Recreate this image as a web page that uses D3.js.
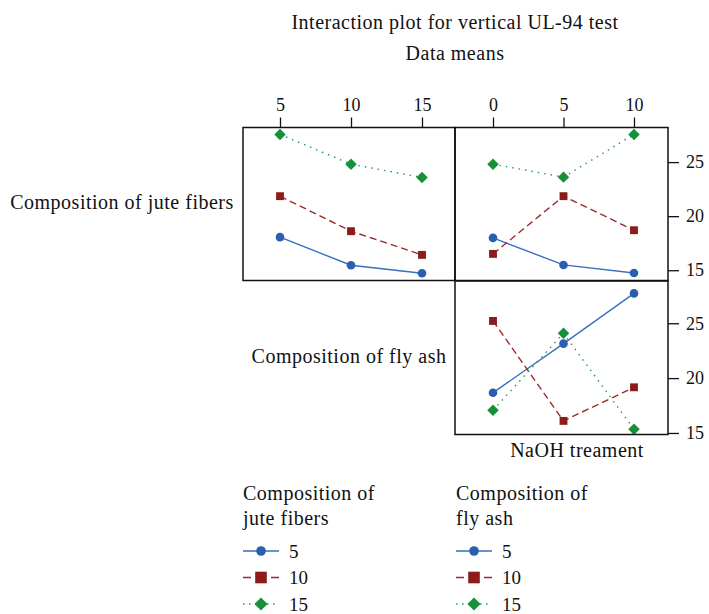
<!DOCTYPE html>
<html>
<head>
<meta charset="utf-8">
<script src="https://cdn.jsdelivr.net/npm/d3@7"></script>
<style>
    body { margin: 0; background: #fff; }
    text { font-family: "Liberation Serif", "DejaVu Serif", serif; fill: #111; }
    .lbl { font-size: 20px; letter-spacing: 0.5px; }
</style>
</head>
<body>
<svg id="chart" width="709" height="614"></svg>
<script>
    // levels of each factor
    let juteLevels = [5, 10, 15]
    let flyAshLevels = [5, 10, 15]
    let naohLevels = [0, 5, 10]

    // means: x = fly ash, lines = jute fibers
    let juteByFlyAsh = {
        5: [18.06, 15.46, 14.72],
        10: [21.85, 18.61, 16.42],
        15: [27.56, 24.81, 23.58]
    }
    // means: x = NaOH, lines = jute fibers
    let juteByNaoh = {
        5: [17.99, 15.49, 14.75],
        10: [16.51, 21.85, 18.70],
        15: [24.81, 23.61, 27.56]
    }
    // means: x = NaOH, lines = fly ash
    let flyAshByNaoh = {
        5: [18.67, 23.14, 27.72],
        10: [25.21, 16.10, 19.16],
        15: [17.08, 24.08, 15.34]
    }

    let yTicks = [15, 20, 25]

    let styles = {
        5: { color: "#2a5eae", line: "#3a6ec0", dash: null, legDash: null, shape: d3.symbolCircle, size: 58, legSize: 72, rot: 0 },
        10: { color: "#8c1c1c", line: "#9b2a2a", dash: "7,4", legDash: "8,20", shape: d3.symbolSquare, size: 62, legSize: 135, rot: 0 },
        15: { color: "#17903b", line: "#2a9a48", dash: "1.5,5", legDash: "1.5,4.5", shape: d3.symbolSquare, size: 66, legSize: 86, rot: 45 }
    }

    let svg = d3.select("#chart")

    // titles
    svg.append("text").attr("class", "lbl").attr("x", 455).attr("y", 29).attr("text-anchor", "middle")
        .text("Interaction plot for vertical UL-94 test")
    svg.append("text").attr("class", "lbl").attr("x", 455).attr("y", 60).attr("text-anchor", "middle")
        .text("Data means")

    // scales
    let xCol1 = d3.scaleLinear().domain([5, 15]).range([280, 422])
    let xCol2 = d3.scaleLinear().domain([0, 10]).range([493, 634])
    let yTop = d3.scaleLinear().domain([14.05, 28.2]).range([280.5, 127.5])
    let yBot = d3.scaleLinear().domain([14.86, 28.85]).range([434.5, 281])

    function drawPanel(x, y, levelsX, series, x0, x1) {
        let g = svg.append("g")
        let line = d3.line().x((d, i) => x(levelsX[i])).y(d => y(d))
        Object.keys(series).forEach(k => {
            let s = styles[k]
            g.append("path").datum(series[k])
                .attr("d", line)
                .attr("fill", "none")
                .attr("stroke", s.line)
                .attr("stroke-width", 1.4)
                .attr("stroke-dasharray", s.dash)
        })
        Object.keys(series).forEach(k => {
            let s = styles[k]
            g.selectAll(null).data(series[k]).enter()
                .append("path")
                .attr("d", d3.symbol().type(s.shape).size(s.size))
                .attr("fill", s.color)
                .attr("transform", (d, i) => "translate(" + x(levelsX[i]) + "," + y(d) + ") rotate(" + s.rot + ")")
        })
        let r = y.range()
        g.append("rect")
            .attr("x", x0).attr("y", r[1])
            .attr("width", x1 - x0).attr("height", r[0] - r[1])
            .attr("fill", "none").attr("stroke", "#111").attr("stroke-width", 1.5)
    }

    drawPanel(xCol1, yTop, flyAshLevels, juteByFlyAsh, 243, 455)
    drawPanel(xCol2, yTop, naohLevels, juteByNaoh, 455, 668)
    drawPanel(xCol2, yBot, naohLevels, flyAshByNaoh, 455, 668)

    // top axes
    function topAxis(x, vals) {
        let g = svg.append("g").attr("transform", "translate(0,127.5)")
            .call(d3.axisTop(x).tickValues(vals).tickSize(10).tickPadding(7).tickFormat(d3.format("d")))
        g.select(".domain").remove()
        g.selectAll("line").attr("stroke", "#111").attr("stroke-width", 1.3)
        g.selectAll("text").style("font-size", "18px").attr("fill", "#111")
    }
    topAxis(xCol1, flyAshLevels)
    topAxis(xCol2, naohLevels)

    // right axes
    function rightAxis(y) {
        let g = svg.append("g").attr("transform", "translate(668,0)")
            .call(d3.axisRight(y).tickValues(yTicks).tickSize(11).tickPadding(7))
        g.select(".domain").remove()
        g.selectAll("line").attr("stroke", "#111").attr("stroke-width", 1.3)
        g.selectAll("text").style("font-size", "18px").attr("fill", "#111")
    }
    rightAxis(yTop)
    rightAxis(yBot)

    // factor labels
    svg.append("text").attr("class", "lbl").attr("x", 122).attr("y", 209).attr("text-anchor", "middle")
        .text("Composition of jute fibers")
    svg.append("text").attr("class", "lbl").attr("x", 349).attr("y", 363).attr("text-anchor", "middle")
        .text("Composition of fly ash")
    svg.append("text").attr("class", "lbl").attr("x", 577).attr("y", 457).attr("text-anchor", "middle")
        .text("NaOH treament")

    // legends
    function legend(x0, titleLines, levels) {
        let g = svg.append("g").attr("transform", "translate(" + x0 + ",0)")
        titleLines.forEach((t, i) => {
            g.append("text").attr("class", "lbl").attr("x", 0).attr("y", 500 + i * 25).text(t)
        })
        let yL = d3.scalePoint().domain(levels).range([551, 604])
        levels.forEach(k => {
            let s = styles[k]
            g.append("line").attr("x1", 0).attr("x2", 36)
                .attr("y1", yL(k)).attr("y2", yL(k))
                .attr("stroke", s.line).attr("stroke-width", 1.4)
                .attr("stroke-dasharray", s.legDash)
            g.append("path")
                .attr("d", d3.symbol().type(s.shape).size(s.legSize))
                .attr("fill", s.color)
                .attr("transform", "translate(18," + yL(k) + ") rotate(" + s.rot + ")")
            g.append("text").attr("x", 46).attr("y", yL(k) + 6.5)
                .style("font-size", "19px").text(k)
        })
    }
    legend(243, ["Composition of", "jute fibers"], juteLevels)
    legend(456, ["Composition of", "fly ash"], flyAshLevels)
</script>
</body>
</html>
